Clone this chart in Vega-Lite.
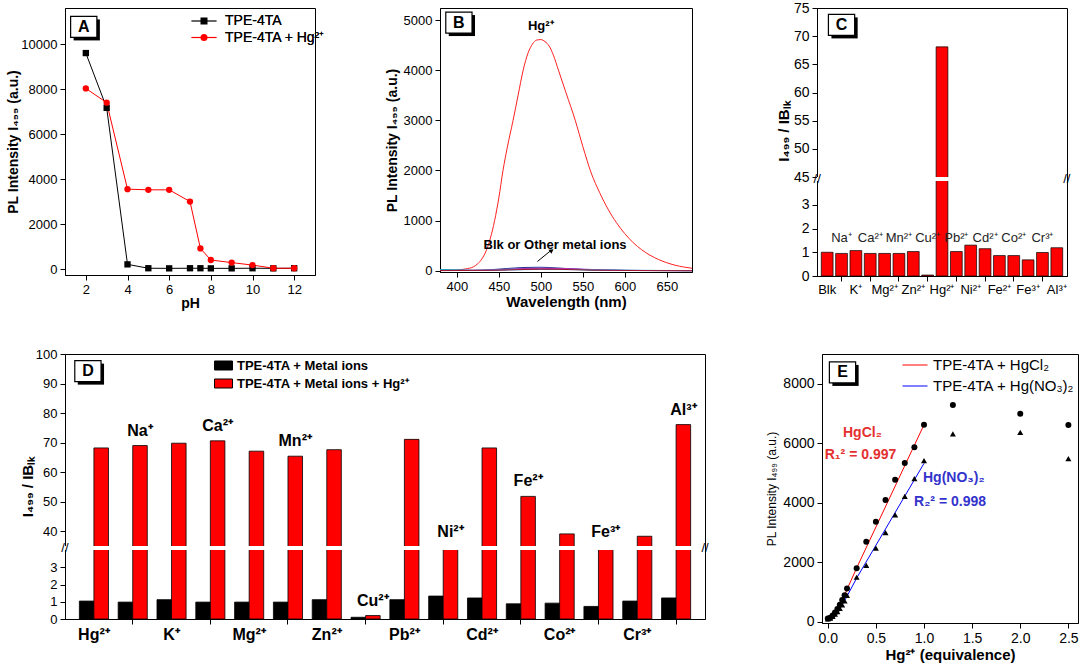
{
"$schema": "https://vega.github.io/schema/vega-lite/v6.json",
"background": "white",
"padding": {"left": 6, "top": 0, "right": 0, "bottom": 0},
"spacing": 36,
"resolve": {"scale": {"color": "independent", "shape": "independent", "fill": "independent", "stroke": "independent"}, "legend": {"color": "independent", "shape": "independent", "fill": "independent", "stroke": "independent"}},
"config": {
  "font": "Liberation Sans",
  "view": {"stroke": "#000", "strokeWidth": 1},
  "axis": {"grid": false, "domainColor": "#000", "domainWidth": 1, "tickColor": "#000", "tickSize": 5, "labelColor": "#000", "titleColor": "#000", "labelFontSize": 13, "titleFontSize": 14, "titleFontWeight": "bold", "labelPadding": 3, "titlePadding": 2, "labelFont": "Liberation Sans", "titleFont": "Liberation Sans", "labelOverlap": false},
  "legend": {"padding": 0, "labelFont": "Liberation Sans", "labelColor": "#000", "labelLimit": 400},
  "text": {"font": "Liberation Sans", "color": "#000"}
},
"vconcat": [
 {"bounds": "flush", "spacing": 125,
  "resolve": {"scale": {"color": "independent", "shape": "independent", "fill": "independent", "stroke": "independent"}, "legend": {"color": "independent", "shape": "independent", "fill": "independent", "stroke": "independent"}},
  "hconcat": [
  {
   "width": 250, "height": 267,
   "data": {"values": [
    {"pH": 2, "I": 9600, "s": "TPE-4TA"}, {"pH": 3, "I": 7170, "s": "TPE-4TA"}, {"pH": 4, "I": 222, "s": "TPE-4TA"}, {"pH": 5, "I": 50, "s": "TPE-4TA"}, {"pH": 6, "I": 45, "s": "TPE-4TA"}, {"pH": 7, "I": 50, "s": "TPE-4TA"}, {"pH": 7.5, "I": 50, "s": "TPE-4TA"}, {"pH": 8, "I": 45, "s": "TPE-4TA"}, {"pH": 9, "I": 45, "s": "TPE-4TA"}, {"pH": 10, "I": 50, "s": "TPE-4TA"}, {"pH": 11, "I": 45, "s": "TPE-4TA"}, {"pH": 12, "I": 50, "s": "TPE-4TA"},
    {"pH": 2, "I": 8030, "s": "TPE-4TA + Hg²⁺"}, {"pH": 3, "I": 7400, "s": "TPE-4TA + Hg²⁺"}, {"pH": 4, "I": 3560, "s": "TPE-4TA + Hg²⁺"}, {"pH": 5, "I": 3530, "s": "TPE-4TA + Hg²⁺"}, {"pH": 6, "I": 3530, "s": "TPE-4TA + Hg²⁺"}, {"pH": 7, "I": 3010, "s": "TPE-4TA + Hg²⁺"}, {"pH": 7.5, "I": 930, "s": "TPE-4TA + Hg²⁺"}, {"pH": 8, "I": 415, "s": "TPE-4TA + Hg²⁺"}, {"pH": 9, "I": 300, "s": "TPE-4TA + Hg²⁺"}, {"pH": 10, "I": 190, "s": "TPE-4TA + Hg²⁺"}, {"pH": 11, "I": 50, "s": "TPE-4TA + Hg²⁺"}, {"pH": 12, "I": 50, "s": "TPE-4TA + Hg²⁺"}
   ]},
   "layer": [
    {"mark": {"type": "line", "strokeWidth": 1},
     "encoding": {
      "x": {"field": "pH", "type": "quantitative", "scale": {"domain": [1, 13], "nice": false, "zero": false}, "axis": {"values": [2, 4, 6, 8, 10, 12], "tickCount": 20, "format": "d", "title": "pH", "titlePadding": 0}},
      "y": {"field": "I", "type": "quantitative", "scale": {"domain": [-250, 11600], "nice": false, "zero": false}, "axis": {"values": [0, 2000, 4000, 6000, 8000, 10000], "tickCount": 20, "format": "d", "title": "PL Intensity I₄₉₉ (a.u.)", "titlePadding": 0}},
      "stroke": {"field": "s", "type": "nominal", "scale": {"domain": ["TPE-4TA", "TPE-4TA + Hg²⁺"], "range": ["#000000", "#ff0000"]},
        "legend": {"orient": "none", "legendX": 132, "legendY": 6, "title": null, "symbolType": "M-3.6,0H3.6", "symbolSize": 49, "symbolStrokeWidth": 1.2, "labelFontSize": 14, "labelOffset": 14, "rowPadding": 2.5}}
     }},
    {"mark": {"type": "point", "filled": true, "size": 40, "opacity": 1},
     "encoding": {
      "x": {"field": "pH", "type": "quantitative"},
      "y": {"field": "I", "type": "quantitative"},
      "fill": {"field": "s", "type": "nominal", "scale": {"range": ["#000000", "#ff0000"]},
        "legend": {"orient": "none", "legendX": 132, "legendY": 6, "title": null, "symbolSize": 49, "symbolStrokeWidth": 0, "labelFontSize": 14, "labelOffset": 14, "rowPadding": 2.5}},
      "shape": {"field": "s", "type": "nominal", "scale": {"range": ["square", "circle"]},
        "legend": {"orient": "none", "legendX": 132, "legendY": 6, "title": null, "symbolSize": 49, "symbolStrokeWidth": 0, "labelFontSize": 14, "labelOffset": 14, "rowPadding": 2.5}}
     }},
    {"data": {"values": [{"t": "A"}]}, "mark": {"type": "point", "shape": "M-1.25,-1H1.25V1H-1.25Z", "size": 441, "filled": true, "color": "#000", "opacity": 1, "xOffset": 3, "yOffset": 3}, "encoding": {"x": {"datum": 1.9}, "y": {"datum": 10760}}},
    {"data": {"values": [{"t": "A"}]}, "mark": {"type": "point", "shape": "M-1.25,-1H1.25V1H-1.25Z", "size": 441, "filled": true, "fill": "#fff", "stroke": "#000", "strokeWidth": 1.2, "opacity": 1}, "encoding": {"x": {"datum": 1.9}, "y": {"datum": 10760}}},
    {"data": {"values": [{"t": "A"}]}, "mark": {"type": "text", "fontSize": 16, "fontWeight": "bold", "baseline": "middle"}, "encoding": {"x": {"datum": 1.9}, "y": {"datum": 10760}, "text": {"field": "t"}}}
   ]
  },
  {
   "width": 252, "height": 264,
   "data": {"values": [
    {"wl": 380, "I": 10, "s": "Hg²⁺"}, {"wl": 400, "I": 15, "s": "Hg²⁺"}, {"wl": 410, "I": 35, "s": "Hg²⁺"}, {"wl": 420, "I": 80, "s": "Hg²⁺"}, {"wl": 425, "I": 140, "s": "Hg²⁺"}, {"wl": 430, "I": 240, "s": "Hg²⁺"}, {"wl": 435, "I": 400, "s": "Hg²⁺"}, {"wl": 440, "I": 650, "s": "Hg²⁺"}, {"wl": 445, "I": 1000, "s": "Hg²⁺"}, {"wl": 450, "I": 1450, "s": "Hg²⁺"}, {"wl": 455, "I": 2000, "s": "Hg²⁺"}, {"wl": 460, "I": 2450, "s": "Hg²⁺"}, {"wl": 467, "I": 3000, "s": "Hg²⁺"}, {"wl": 473, "I": 3500, "s": "Hg²⁺"}, {"wl": 479, "I": 4000, "s": "Hg²⁺"}, {"wl": 485, "I": 4350, "s": "Hg²⁺"}, {"wl": 490, "I": 4520, "s": "Hg²⁺"}, {"wl": 495, "I": 4600, "s": "Hg²⁺"}, {"wl": 500, "I": 4610, "s": "Hg²⁺"}, {"wl": 505, "I": 4570, "s": "Hg²⁺"}, {"wl": 510, "I": 4480, "s": "Hg²⁺"}, {"wl": 515, "I": 4300, "s": "Hg²⁺"}, {"wl": 521, "I": 4000, "s": "Hg²⁺"}, {"wl": 530, "I": 3550, "s": "Hg²⁺"}, {"wl": 541, "I": 3000, "s": "Hg²⁺"}, {"wl": 550, "I": 2480, "s": "Hg²⁺"}, {"wl": 560, "I": 1950, "s": "Hg²⁺"}, {"wl": 570, "I": 1560, "s": "Hg²⁺"}, {"wl": 580, "I": 1230, "s": "Hg²⁺"}, {"wl": 590, "I": 960, "s": "Hg²⁺"}, {"wl": 600, "I": 740, "s": "Hg²⁺"}, {"wl": 610, "I": 560, "s": "Hg²⁺"}, {"wl": 620, "I": 420, "s": "Hg²⁺"}, {"wl": 630, "I": 310, "s": "Hg²⁺"}, {"wl": 640, "I": 225, "s": "Hg²⁺"}, {"wl": 650, "I": 160, "s": "Hg²⁺"}, {"wl": 660, "I": 110, "s": "Hg²⁺"}, {"wl": 670, "I": 75, "s": "Hg²⁺"}, {"wl": 680, "I": 50, "s": "Hg²⁺"},
    {"wl": 380, "I": 5, "s": "Blk"}, {"wl": 420, "I": 5, "s": "Blk"}, {"wl": 440, "I": 20, "s": "Blk"}, {"wl": 460, "I": 45, "s": "Blk"}, {"wl": 480, "I": 65, "s": "Blk"}, {"wl": 500, "I": 70, "s": "Blk"}, {"wl": 520, "I": 55, "s": "Blk"}, {"wl": 540, "I": 35, "s": "Blk"}, {"wl": 560, "I": 18, "s": "Blk"}, {"wl": 600, "I": 6, "s": "Blk"}, {"wl": 680, "I": 2, "s": "Blk"},
    {"wl": 380, "I": 25, "s": "Na⁺"}, {"wl": 400, "I": 18, "s": "Na⁺"}, {"wl": 420, "I": 8, "s": "Na⁺"}, {"wl": 440, "I": 12, "s": "Na⁺"}, {"wl": 460, "I": 28, "s": "Na⁺"}, {"wl": 480, "I": 42, "s": "Na⁺"}, {"wl": 500, "I": 48, "s": "Na⁺"}, {"wl": 520, "I": 40, "s": "Na⁺"}, {"wl": 540, "I": 25, "s": "Na⁺"}, {"wl": 560, "I": 12, "s": "Na⁺"}, {"wl": 600, "I": 5, "s": "Na⁺"}, {"wl": 680, "I": 2, "s": "Na⁺"},
    {"wl": 380, "I": 5, "s": "Ca²⁺"}, {"wl": 440, "I": 12, "s": "Ca²⁺"}, {"wl": 460, "I": 30, "s": "Ca²⁺"}, {"wl": 480, "I": 45, "s": "Ca²⁺"}, {"wl": 500, "I": 52, "s": "Ca²⁺"}, {"wl": 520, "I": 48, "s": "Ca²⁺"}, {"wl": 540, "I": 38, "s": "Ca²⁺"}, {"wl": 560, "I": 26, "s": "Ca²⁺"}, {"wl": 580, "I": 14, "s": "Ca²⁺"}, {"wl": 600, "I": 7, "s": "Ca²⁺"}, {"wl": 680, "I": 2, "s": "Ca²⁺"},
    {"wl": 380, "I": 4, "s": "Cu²⁺"}, {"wl": 440, "I": 10, "s": "Cu²⁺"}, {"wl": 460, "I": 22, "s": "Cu²⁺"}, {"wl": 480, "I": 35, "s": "Cu²⁺"}, {"wl": 500, "I": 40, "s": "Cu²⁺"}, {"wl": 520, "I": 38, "s": "Cu²⁺"}, {"wl": 540, "I": 30, "s": "Cu²⁺"}, {"wl": 560, "I": 20, "s": "Cu²⁺"}, {"wl": 580, "I": 10, "s": "Cu²⁺"}, {"wl": 620, "I": 4, "s": "Cu²⁺"}, {"wl": 680, "I": 2, "s": "Cu²⁺"},
    {"wl": 380, "I": 15, "s": "Pb²⁺"}, {"wl": 400, "I": 12, "s": "Pb²⁺"}, {"wl": 420, "I": 6, "s": "Pb²⁺"}, {"wl": 460, "I": 15, "s": "Pb²⁺"}, {"wl": 500, "I": 25, "s": "Pb²⁺"}, {"wl": 540, "I": 22, "s": "Pb²⁺"}, {"wl": 580, "I": 16, "s": "Pb²⁺"}, {"wl": 620, "I": 8, "s": "Pb²⁺"}, {"wl": 680, "I": 3, "s": "Pb²⁺"},
    {"wl": 380, "I": 3, "s": "Fe³⁺"}, {"wl": 440, "I": 8, "s": "Fe³⁺"}, {"wl": 480, "I": 25, "s": "Fe³⁺"}, {"wl": 500, "I": 30, "s": "Fe³⁺"}, {"wl": 520, "I": 28, "s": "Fe³⁺"}, {"wl": 560, "I": 14, "s": "Fe³⁺"}, {"wl": 600, "I": 5, "s": "Fe³⁺"}, {"wl": 680, "I": 1, "s": "Fe³⁺"}
   ]},
   "layer": [
    {"mark": {"type": "line", "strokeWidth": 1, "interpolate": "monotone"},
     "encoding": {
      "x": {"field": "wl", "type": "quantitative", "scale": {"domain": [380, 680], "nice": false, "zero": false}, "axis": {"values": [400, 450, 500, 550, 600, 650], "tickCount": 20, "format": "d", "title": "Wavelength (nm)", "titleFontSize": 15, "titlePadding": 1}},
      "y": {"field": "I", "type": "quantitative", "scale": {"domain": [-25, 5240], "nice": false, "zero": false}, "axis": {"values": [0, 1000, 2000, 3000, 4000, 5000], "tickCount": 20, "format": "d", "title": "PL Intensity I₄₉₉ (a.u.)", "titlePadding": 4}},
      "color": {"field": "s", "type": "nominal", "scale": {"domain": ["Hg²⁺", "Blk", "Na⁺", "Ca²⁺", "Cu²⁺", "Pb²⁺", "Fe³⁺"], "range": ["#ff2020", "#22328f", "#0e8c8c", "#8b3fd9", "#d02a90", "#28b4e6", "#a3122f"]}, "legend": null}
     }},
    {"data": {"values": [{}]}, "mark": {"type": "text", "text": "Hg²⁺", "fontWeight": "bold", "fontSize": 13}, "encoding": {"x": {"datum": 500}, "y": {"datum": 4880}}},
    {"data": {"values": [{}]}, "mark": {"type": "text", "text": "Blk or Other metal ions", "fontWeight": "bold", "fontSize": 13}, "encoding": {"x": {"datum": 517}, "y": {"datum": 520}}},
    {"data": {"values": [{}]}, "mark": {"type": "rule", "strokeWidth": 1, "color": "#000"}, "encoding": {"x": {"datum": 496}, "y": {"datum": 185}, "x2": {"datum": 511}, "y2": {"datum": 390}}},
    {"data": {"values": [{}]}, "mark": {"type": "point", "shape": "triangle-up", "filled": true, "size": 25, "angle": 54, "color": "#000", "opacity": 1}, "encoding": {"x": {"datum": 513}, "y": {"datum": 404}}},
    {"data": {"values": [{"t": "B"}]}, "mark": {"type": "point", "shape": "M-1.25,-1H1.25V1H-1.25Z", "size": 441, "filled": true, "color": "#000", "opacity": 1, "xOffset": 3, "yOffset": 3}, "encoding": {"x": {"datum": 402.5}, "y": {"datum": 4950}}},
    {"data": {"values": [{"t": "B"}]}, "mark": {"type": "point", "shape": "M-1.25,-1H1.25V1H-1.25Z", "size": 441, "filled": true, "fill": "#fff", "stroke": "#000", "strokeWidth": 1.2, "opacity": 1}, "encoding": {"x": {"datum": 402.5}, "y": {"datum": 4950}}},
    {"data": {"values": [{"t": "B"}]}, "mark": {"type": "text", "fontSize": 16, "fontWeight": "bold", "baseline": "middle"}, "encoding": {"x": {"datum": 402.5}, "y": {"datum": 4950}, "text": {"field": "t"}}}
   ]
  },
  {
   "width": 250, "height": 268,
   "data": {"values": [
    {"ion": "Blk", "v": 1.0}, {"ion": "Na⁺", "v": 0.95}, {"ion": "K⁺", "v": 1.07}, {"ion": "Ca²⁺", "v": 0.95}, {"ion": "Mg²⁺", "v": 0.95}, {"ion": "Mn²⁺", "v": 0.95}, {"ion": "Zn²⁺", "v": 1.03}, {"ion": "Cu²⁺", "v": 0.04}, {"ion": "Hg²⁺", "v": 68.1}, {"ion": "Pb²⁺", "v": 1.03}, {"ion": "Ni²⁺", "v": 1.3}, {"ion": "Cd²⁺", "v": 1.15}, {"ion": "Fe²⁺", "v": 0.86}, {"ion": "Co²⁺", "v": 0.86}, {"ion": "Fe³⁺", "v": 0.68}, {"ion": "Cr³⁺", "v": 0.99}, {"ion": "Al³⁺", "v": 1.19}
   ]},
   "layer": [
    {"mark": {"type": "bar", "fill": "#ff0000", "stroke": "#000", "strokeWidth": 0.7},
     "encoding": {
      "x": {"field": "ion", "type": "nominal", "scale": {"domain": ["Blk", "Na⁺", "K⁺", "Ca²⁺", "Mg²⁺", "Mn²⁺", "Zn²⁺", "Cu²⁺", "Hg²⁺", "Pb²⁺", "Ni²⁺", "Cd²⁺", "Fe²⁺", "Co²⁺", "Fe³⁺", "Cr³⁺", "Al³⁺"], "paddingInner": 0.18, "paddingOuter": 0.3},
        "axis": {"title": null, "labelAngle": 0, "labelFontSize": 13, "labelPadding": 2, "labelOverlap": false,
          "labelExpr": "indexof(['Na⁺','Ca²⁺','Mn²⁺','Cu²⁺','Pb²⁺','Cd²⁺','Co²⁺','Cr³⁺'], datum.value) >= 0 ? '' : datum.value",
          "tickColor": {"condition": {"test": "indexof(['Na⁺','Ca²⁺','Mn²⁺','Cu²⁺','Pb²⁺','Cd²⁺','Co²⁺','Cr³⁺'], datum.value) >= 0", "value": "#000"}, "value": "transparent"}}},
      "y": {"field": "v", "type": "quantitative", "scale": {"domain": [0, 4, 45, 75], "range": [268, 173, 169, 0], "nice": false, "zero": false}, "axis": {"values": [0, 1, 2, 3, 45, 50, 55, 60, 65, 70, 75], "tickCount": 30, "format": "d", "labelOverlap": false, "title": "I₄₉₉ / IBₗₖ", "titleFontSize": 15, "titleY": 123, "labelFontSize": 14}}
     }},
    {"data": {"values": [{}]}, "mark": {"type": "rect", "fill": "#fff"}, "encoding": {"y": {"datum": 4}, "y2": {"datum": 45}}},
    {"data": {"values": [{}]}, "mark": {"type": "text", "text": "//", "fontSize": 13, "xOffset": -10}, "encoding": {"x": {"datum": "Blk"}, "y": {"datum": 20}}},
    {"data": {"values": [{}]}, "mark": {"type": "text", "text": "//", "fontSize": 13, "xOffset": 10}, "encoding": {"x": {"datum": "Al³⁺"}, "y": {"datum": 20}}},
    {"transform": [{"filter": {"field": "ion", "oneOf": ["Na⁺", "Ca²⁺", "Mn²⁺", "Cu²⁺", "Pb²⁺", "Cd²⁺", "Co²⁺", "Cr³⁺"]}}],
     "mark": {"type": "text", "fontSize": 13, "color": "#222"},
     "encoding": {"x": {"field": "ion", "type": "nominal"}, "y": {"datum": 1.6}, "text": {"field": "ion"}}},
    {"data": {"values": [{"t": "C"}]}, "mark": {"type": "point", "shape": "M-1.25,-1H1.25V1H-1.25Z", "size": 441, "filled": true, "color": "#000", "opacity": 1, "xOffset": 3, "yOffset": 3}, "encoding": {"x": {"datum": "Na⁺"}, "y": {"datum": 72}}},
    {"data": {"values": [{"t": "C"}]}, "mark": {"type": "point", "shape": "M-1.25,-1H1.25V1H-1.25Z", "size": 441, "filled": true, "fill": "#fff", "stroke": "#000", "strokeWidth": 1.2, "opacity": 1}, "encoding": {"x": {"datum": "Na⁺"}, "y": {"datum": 72}}},
    {"data": {"values": [{"t": "C"}]}, "mark": {"type": "text", "fontSize": 16, "fontWeight": "bold", "baseline": "middle"}, "encoding": {"x": {"datum": "Na⁺"}, "y": {"datum": 72}, "text": {"field": "t"}}}
   ]
  }
 ]},
 {"bounds": "flush", "spacing": 117,
  "resolve": {"scale": {"color": "independent", "shape": "independent", "fill": "independent", "stroke": "independent"}, "legend": {"color": "independent", "shape": "independent", "fill": "independent", "stroke": "independent"}},
  "hconcat": [
  {
   "width": 640, "height": 265,
   "data": {"values": [
    {"ion": "Hg²⁺", "s": "TPE-4TA + Metal ions", "v": 1.04}, {"ion": "Hg²⁺", "s": "TPE-4TA + Metal ions + Hg²⁺", "v": 68.2},
    {"ion": "Na⁺", "s": "TPE-4TA + Metal ions", "v": 0.98}, {"ion": "Na⁺", "s": "TPE-4TA + Metal ions + Hg²⁺", "v": 69.0},
    {"ion": "K⁺", "s": "TPE-4TA + Metal ions", "v": 1.12}, {"ion": "K⁺", "s": "TPE-4TA + Metal ions + Hg²⁺", "v": 69.8},
    {"ion": "Ca²⁺", "s": "TPE-4TA + Metal ions", "v": 0.98}, {"ion": "Ca²⁺", "s": "TPE-4TA + Metal ions + Hg²⁺", "v": 70.6},
    {"ion": "Mg²⁺", "s": "TPE-4TA + Metal ions", "v": 0.98}, {"ion": "Mg²⁺", "s": "TPE-4TA + Metal ions + Hg²⁺", "v": 67.1},
    {"ion": "Mn²⁺", "s": "TPE-4TA + Metal ions", "v": 0.98}, {"ion": "Mn²⁺", "s": "TPE-4TA + Metal ions + Hg²⁺", "v": 65.4},
    {"ion": "Zn²⁺", "s": "TPE-4TA + Metal ions", "v": 1.12}, {"ion": "Zn²⁺", "s": "TPE-4TA + Metal ions + Hg²⁺", "v": 67.6},
    {"ion": "Cu²⁺", "s": "TPE-4TA + Metal ions", "v": 0.1}, {"ion": "Cu²⁺", "s": "TPE-4TA + Metal ions + Hg²⁺", "v": 0.2},
    {"ion": "Pb²⁺", "s": "TPE-4TA + Metal ions", "v": 1.12}, {"ion": "Pb²⁺", "s": "TPE-4TA + Metal ions + Hg²⁺", "v": 71.1},
    {"ion": "Ni²⁺", "s": "TPE-4TA + Metal ions", "v": 1.33}, {"ion": "Ni²⁺", "s": "TPE-4TA + Metal ions + Hg²⁺", "v": 25},
    {"ion": "Cd²⁺", "s": "TPE-4TA + Metal ions", "v": 1.22}, {"ion": "Cd²⁺", "s": "TPE-4TA + Metal ions + Hg²⁺", "v": 68.2},
    {"ion": "Fe²⁺", "s": "TPE-4TA + Metal ions", "v": 0.88}, {"ion": "Fe²⁺", "s": "TPE-4TA + Metal ions + Hg²⁺", "v": 51.8},
    {"ion": "Co²⁺", "s": "TPE-4TA + Metal ions", "v": 0.92}, {"ion": "Co²⁺", "s": "TPE-4TA + Metal ions + Hg²⁺", "v": 39.1},
    {"ion": "Fe³⁺", "s": "TPE-4TA + Metal ions", "v": 0.73}, {"ion": "Fe³⁺", "s": "TPE-4TA + Metal ions + Hg²⁺", "v": 25},
    {"ion": "Cr³⁺", "s": "TPE-4TA + Metal ions", "v": 1.04}, {"ion": "Cr³⁺", "s": "TPE-4TA + Metal ions + Hg²⁺", "v": 38.3},
    {"ion": "Al³⁺", "s": "TPE-4TA + Metal ions", "v": 1.22}, {"ion": "Al³⁺", "s": "TPE-4TA + Metal ions + Hg²⁺", "v": 76.1}
   ]},
   "layer": [
    {"mark": {"type": "bar", "stroke": "#000", "strokeWidth": 0.8, "opacity": 1},
     "encoding": {
      "x": {"field": "ion", "type": "nominal", "scale": {"domain": ["Hg²⁺", "Na⁺", "K⁺", "Ca²⁺", "Mg²⁺", "Mn²⁺", "Zn²⁺", "Cu²⁺", "Pb²⁺", "Ni²⁺", "Cd²⁺", "Fe²⁺", "Co²⁺", "Fe³⁺", "Cr³⁺", "Al³⁺"], "paddingInner": 0.25, "paddingOuter": 0.37},
        "axis": {"title": null, "labelAngle": 0, "labelFontSize": 16, "labelFontWeight": "bold", "labelPadding": 2, "labelOverlap": false,
          "labelExpr": "indexof(['Na⁺','Ca²⁺','Mn²⁺','Cu²⁺','Ni²⁺','Fe²⁺','Fe³⁺','Al³⁺'], datum.value) >= 0 ? '' : datum.value",
          "tickColor": {"condition": {"test": "indexof(['Na⁺','Ca²⁺','Mn²⁺','Cu²⁺','Ni²⁺','Fe²⁺','Fe³⁺','Al³⁺'], datum.value) >= 0", "value": "#000"}, "value": "transparent"}}},
      "xOffset": {"field": "s", "type": "nominal", "scale": {"domain": ["TPE-4TA + Metal ions", "TPE-4TA + Metal ions + Hg²⁺"]}},
      "y": {"field": "v", "type": "quantitative", "scale": {"domain": [0, 4, 35, 100], "range": [265, 196, 192, 0], "nice": false, "zero": false}, "axis": {"values": [0, 1, 2, 3, 40, 50, 60, 70, 80, 90, 100], "tickCount": 30, "format": "d", "labelOverlap": false, "title": "I₄₉₉ / IBₗₖ", "titleFontSize": 15, "titlePadding": 0}},
      "color": {"field": "s", "type": "nominal", "scale": {"domain": ["TPE-4TA + Metal ions", "TPE-4TA + Metal ions + Hg²⁺"], "range": ["#000000", "#ff0000"]},
        "legend": {"orient": "none", "legendX": 152, "legendY": 5, "title": null, "symbolType": "M-2,-1H2V1H-2Z", "symbolSize": 81, "labelFontSize": 13, "labelFontWeight": "bold", "labelOffset": 7, "rowPadding": 4, "labelLimit": 400, "symbolStrokeColor": "#000", "symbolStrokeWidth": 1, "symbolOpacity": 1}}
     }},
    {"data": {"values": [{}]}, "mark": {"type": "rect", "fill": "#fff"}, "encoding": {"y": {"datum": 4}, "y2": {"datum": 35}}},
    {"data": {"values": [{}]}, "mark": {"type": "text", "text": "//", "fontSize": 13, "xOffset": -29}, "encoding": {"x": {"datum": "Hg²⁺"}, "y": {"datum": 20}}},
    {"data": {"values": [{}]}, "mark": {"type": "text", "text": "//", "fontSize": 13, "xOffset": 29}, "encoding": {"x": {"datum": "Al³⁺"}, "y": {"datum": 20}}},
    {"transform": [{"filter": "datum.s === 'TPE-4TA + Metal ions + Hg²⁺' && indexof(['Na⁺','Ca²⁺','Mn²⁺','Cu²⁺','Ni²⁺','Fe²⁺','Fe³⁺','Al³⁺'], datum.ion) >= 0"}],
     "mark": {"type": "text", "fontSize": 16, "fontWeight": "bold", "baseline": "bottom", "dy": -7},
     "encoding": {"x": {"field": "ion", "type": "nominal"}, "xOffset": {"field": "s", "type": "nominal"}, "y": {"field": "v", "type": "quantitative"}, "text": {"field": "ion"}}},
    {"data": {"values": [{"t": "D"}]}, "mark": {"type": "point", "shape": "M-1.25,-1H1.25V1H-1.25Z", "size": 441, "filled": true, "color": "#000", "opacity": 1, "xOffset": -3, "yOffset": 3}, "encoding": {"x": {"datum": "Hg²⁺"}, "y": {"datum": 94.2}}},
    {"data": {"values": [{"t": "D"}]}, "mark": {"type": "point", "shape": "M-1.25,-1H1.25V1H-1.25Z", "size": 441, "filled": true, "fill": "#fff", "stroke": "#000", "strokeWidth": 1.2, "opacity": 1, "xOffset": -6}, "encoding": {"x": {"datum": "Hg²⁺"}, "y": {"datum": 94.2}}},
    {"data": {"values": [{"t": "D"}]}, "mark": {"type": "text", "fontSize": 16, "fontWeight": "bold", "baseline": "middle", "xOffset": -6}, "encoding": {"x": {"datum": "Hg²⁺"}, "y": {"datum": 94.2}, "text": {"field": "t"}}}
   ]
  },
  {
   "width": 256, "height": 269,
   "layer": [
    {"data": {"values": [
      {"x": 0.05, "y": 180, "fit": "TPE-4TA + HgCl₂"}, {"x": 0.1, "y": 400, "fit": "TPE-4TA + HgCl₂"}, {"x": 0.15, "y": 700, "fit": "TPE-4TA + HgCl₂"}, {"x": 0.2, "y": 1080, "fit": "TPE-4TA + HgCl₂"}, {"x": 0.3, "y": 1800, "fit": "TPE-4TA + HgCl₂"}, {"x": 1.0, "y": 6620, "fit": "TPE-4TA + HgCl₂"},
      {"x": 0.05, "y": 130, "fit": "TPE-4TA + Hg(NO₃)₂"}, {"x": 0.1, "y": 320, "fit": "TPE-4TA + Hg(NO₃)₂"}, {"x": 0.15, "y": 560, "fit": "TPE-4TA + Hg(NO₃)₂"}, {"x": 0.2, "y": 850, "fit": "TPE-4TA + Hg(NO₃)₂"}, {"x": 0.3, "y": 1460, "fit": "TPE-4TA + Hg(NO₃)₂"}, {"x": 1.0, "y": 5320, "fit": "TPE-4TA + Hg(NO₃)₂"}
     ]},
     "mark": {"type": "line", "strokeWidth": 1},
     "encoding": {
      "x": {"field": "x", "type": "quantitative", "scale": {"domain": [-0.06, 2.6], "nice": false, "zero": false}, "axis": {"values": [0, 0.5, 1, 1.5, 2, 2.5], "tickCount": 20, "format": ".1f", "title": "Hg²⁺ (equivalence)", "titleFontSize": 15, "labelFontSize": 14}},
      "y": {"field": "y", "type": "quantitative", "scale": {"domain": [-50, 9000], "nice": false, "zero": false}, "axis": {"values": [0, 2000, 4000, 6000, 8000], "tickCount": 20, "format": "d", "title": "PL Intensity I₄₉₉ (a.u.)", "titleFontWeight": "normal", "titleFontSize": 12, "labelFontSize": 14, "titlePadding": 4}},
      "color": {"field": "fit", "type": "nominal", "scale": {"domain": ["TPE-4TA + HgCl₂", "TPE-4TA + Hg(NO₃)₂"], "range": ["#ff0000", "#0000ff"]},
        "legend": {"orient": "none", "legendX": 80, "legendY": -2, "title": null, "symbolType": "stroke", "symbolSize": 625, "symbolStrokeWidth": 1, "labelFontSize": 15, "labelOffset": 5, "rowPadding": 0}}
     }},
    {"data": {"values": [
      {"x": 0, "y": 100, "salt": "HgCl₂"}, {"x": 0.025, "y": 130, "salt": "HgCl₂"}, {"x": 0.05, "y": 200, "salt": "HgCl₂"}, {"x": 0.075, "y": 300, "salt": "HgCl₂"}, {"x": 0.1, "y": 420, "salt": "HgCl₂"}, {"x": 0.125, "y": 560, "salt": "HgCl₂"}, {"x": 0.15, "y": 720, "salt": "HgCl₂"}, {"x": 0.175, "y": 880, "salt": "HgCl₂"}, {"x": 0.2, "y": 1110, "salt": "HgCl₂"}, {"x": 0.3, "y": 1790, "salt": "HgCl₂"}, {"x": 0.4, "y": 2680, "salt": "HgCl₂"}, {"x": 0.5, "y": 3360, "salt": "HgCl₂"}, {"x": 0.6, "y": 4090, "salt": "HgCl₂"}, {"x": 0.7, "y": 4770, "salt": "HgCl₂"}, {"x": 0.8, "y": 5330, "salt": "HgCl₂"}, {"x": 0.9, "y": 5860, "salt": "HgCl₂"}, {"x": 1.0, "y": 6620, "salt": "HgCl₂"}, {"x": 1.3, "y": 7280, "salt": "HgCl₂"}, {"x": 2.0, "y": 6990, "salt": "HgCl₂"}, {"x": 2.5, "y": 6610, "salt": "HgCl₂"},
      {"x": 0, "y": 90, "salt": "Hg(NO₃)₂"}, {"x": 0.025, "y": 110, "salt": "Hg(NO₃)₂"}, {"x": 0.05, "y": 170, "salt": "Hg(NO₃)₂"}, {"x": 0.075, "y": 250, "salt": "Hg(NO₃)₂"}, {"x": 0.1, "y": 330, "salt": "Hg(NO₃)₂"}, {"x": 0.125, "y": 440, "salt": "Hg(NO₃)₂"}, {"x": 0.15, "y": 560, "salt": "Hg(NO₃)₂"}, {"x": 0.175, "y": 690, "salt": "Hg(NO₃)₂"}, {"x": 0.2, "y": 880, "salt": "Hg(NO₃)₂"}, {"x": 0.3, "y": 1490, "salt": "Hg(NO₃)₂"}, {"x": 0.4, "y": 1890, "salt": "Hg(NO₃)₂"}, {"x": 0.5, "y": 2470, "salt": "Hg(NO₃)₂"}, {"x": 0.6, "y": 2990, "salt": "Hg(NO₃)₂"}, {"x": 0.7, "y": 3590, "salt": "Hg(NO₃)₂"}, {"x": 0.8, "y": 4210, "salt": "Hg(NO₃)₂"}, {"x": 0.9, "y": 4810, "salt": "Hg(NO₃)₂"}, {"x": 1.0, "y": 5410, "salt": "Hg(NO₃)₂"}, {"x": 1.3, "y": 6310, "salt": "Hg(NO₃)₂"}, {"x": 2.0, "y": 6360, "salt": "Hg(NO₃)₂"}, {"x": 2.5, "y": 5480, "salt": "Hg(NO₃)₂"}
     ]},
     "mark": {"type": "point", "filled": true, "size": 36, "color": "#000", "opacity": 1},
     "encoding": {
      "x": {"field": "x", "type": "quantitative"},
      "y": {"field": "y", "type": "quantitative"},
      "shape": {"field": "salt", "type": "nominal", "scale": {"domain": ["HgCl₂", "Hg(NO₃)₂"], "range": ["circle", "triangle-up"]}, "legend": null}
     }},
    {"data": {"values": [{}]}, "mark": {"type": "text", "text": "HgCl₂", "fontWeight": "bold", "fontSize": 14, "color": "#e53030"}, "encoding": {"x": {"datum": 0.36}, "y": {"datum": 6340}}},
    {"data": {"values": [{}]}, "mark": {"type": "text", "text": "R₁² = 0.997", "fontWeight": "bold", "fontSize": 14, "color": "#e53030"}, "encoding": {"x": {"datum": 0.34}, "y": {"datum": 5590}}},
    {"data": {"values": [{}]}, "mark": {"type": "text", "text": "Hg(NO₃)₂", "fontWeight": "bold", "fontSize": 14, "color": "#3333cc"}, "encoding": {"x": {"datum": 1.31}, "y": {"datum": 4830}}},
    {"data": {"values": [{}]}, "mark": {"type": "text", "text": "R₂² = 0.998", "fontWeight": "bold", "fontSize": 14, "color": "#3333cc"}, "encoding": {"x": {"datum": 1.27}, "y": {"datum": 4010}}},
    {"data": {"values": [{"t": "E"}]}, "mark": {"type": "point", "shape": "M-1.25,-1H1.25V1H-1.25Z", "size": 441, "filled": true, "color": "#000", "opacity": 1, "xOffset": 3, "yOffset": 3}, "encoding": {"x": {"datum": 0.153}, "y": {"datum": 8380}}},
    {"data": {"values": [{"t": "E"}]}, "mark": {"type": "point", "shape": "M-1.25,-1H1.25V1H-1.25Z", "size": 441, "filled": true, "fill": "#fff", "stroke": "#000", "strokeWidth": 1.2, "opacity": 1}, "encoding": {"x": {"datum": 0.153}, "y": {"datum": 8380}}},
    {"data": {"values": [{"t": "E"}]}, "mark": {"type": "text", "fontSize": 16, "fontWeight": "bold", "baseline": "middle"}, "encoding": {"x": {"datum": 0.153}, "y": {"datum": 8380}, "text": {"field": "t"}}}
   ]
  }
 ]}
]
}
